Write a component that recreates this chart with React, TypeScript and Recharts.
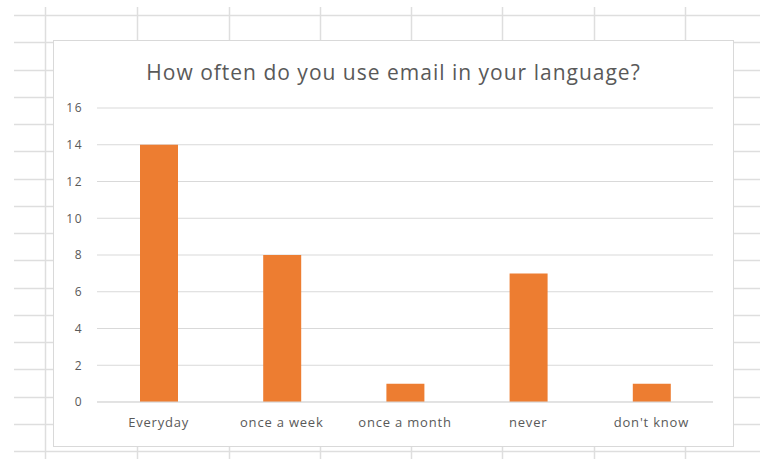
import React from 'react';
import { BarChart, Bar, XAxis, YAxis, CartesianGrid } from 'recharts';

const categories = ['Everyday', 'once a week', 'once a month', 'never', "don't know"];
const counts = [14, 8, 1, 7, 1];
const yTicks = [0, 2, 4, 6, 8, 10, 12, 14, 16];
const title = 'How often do you use email in your language?';

const data = categories.map((c, i) => ({ category: c, count: counts[i] }));

const sheetCols = [45, 137, 229, 320, 411, 502, 594, 685];
const sheetRows = Array.from({ length: 17 }, (_, i) => 15 + i * 27.25);

const FONT = '"Open Sans", "Noto Sans", sans-serif';

export default function App() {
  return (
    <div style={{ position: 'absolute', left: 0, top: 0, width: 760, height: 459, background: '#fff', overflow: 'hidden' }}>
      <svg width={760} height={459} style={{ position: 'absolute', left: 0, top: 0 }}>
        {sheetRows.map((y, i) => (
          <line key={'r' + i} x1={14} x2={760} y1={Math.round(y) + 0.5} y2={Math.round(y) + 0.5} stroke="#dedede" strokeWidth={1.5} />
        ))}
        {sheetCols.map((x, i) => (
          <line key={'c' + i} x1={x + 0.5} x2={x + 0.5} y1={7} y2={459} stroke="#dedede" strokeWidth={1.5} />
        ))}
      </svg>
      <div
        style={{
          position: 'absolute',
          left: 53,
          top: 40,
          width: 681,
          height: 407,
          boxSizing: 'border-box',
          border: '1px solid #d9d9d9',
          background: '#fff',
        }}
      >
        <div
          style={{
            position: 'absolute',
            left: 0,
            top: 16,
            width: '100%',
            textAlign: 'center',
            fontFamily: FONT,
            fontSize: 21,
            letterSpacing: '1px',
            lineHeight: '30px',
            color: '#595959',
          }}
        >
          {title}
        </div>
        <BarChart
          width={679}
          height={405}
          data={data}
          margin={{ top: 67, right: 20, bottom: 14, left: 13 }}
        >
          <CartesianGrid vertical={false} stroke="#d9d9d9" />
          <XAxis
            dataKey="category"
            axisLine={{ stroke: '#d9d9d9' }}
            tickLine={false}
            height={30}
            tickMargin={10}
            tick={{ fill: '#595959', fontSize: 13, fontFamily: FONT, letterSpacing: '0.8px' }}
            interval={0}
          />
          <YAxis
            width={30}
            domain={[0, 16]}
            ticks={yTicks}
            axisLine={false}
            tickLine={false}
            tickMargin={8}
            tick={{ fill: '#595959', fontSize: 12, fontFamily: FONT, letterSpacing: '1.5px' }}
          />
          <Bar dataKey="count" fill="#ED7D31" barSize={38} isAnimationActive={false} />
        </BarChart>
      </div>
    </div>
  );
}
